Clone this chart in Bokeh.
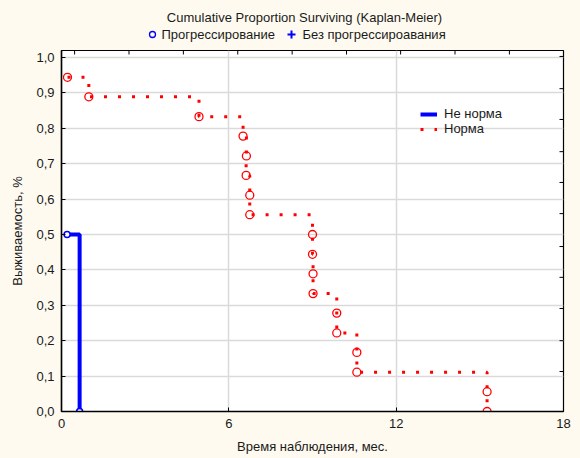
from bokeh.plotting import figure
from bokeh.layouts import column
from bokeh.models import Range1d, FixedTicker, Legend, LegendItem
from bokeh.core.properties import value
from bokeh.embed import file_html
from bokeh.resources import INLINE

# ---- texts ----
title_text = "Cumulative Proportion Surviving (Kaplan-Meier)"
x_label = "Время наблюдения, мес."
y_label = "Выживаемость, %"
top_legend_labels = ["Прогрессирование", "Без прогрессироавания"]
inner_legend_labels = ["Не норма", "Норма"]

# ---- ticks ----
x_ticks = [0, 6, 12, 18]
y_ticks = [0.0, 0.1, 0.2, 0.3, 0.4, 0.5, 0.6, 0.7, 0.8, 0.9, 1.0]
y_tick_labels = ["0,0", "0,1", "0,2", "0,3", "0,4", "0,5", "0,6", "0,7", "0,8", "0,9", "1,0"]
top_minor_ticks = [0.47, 2.42, 4.37, 6.32, 8.27, 10.22, 12.16, 14.11, 16.06]
right_minor_ticks = [1.003, 0.912, 0.825, 0.734, 0.647, 0.559, 0.466, 0.379, 0.291, 0.2, 0.113]

# ---- data ----
ne_norma_time = [0.2, 0.65]
ne_norma_surv = [0.5, 0.0]

norma_time = [0.215, 0.98, 4.93, 6.51, 6.63, 6.62, 6.75, 6.75, 9.0, 9.0,
              9.02, 9.02, 9.87, 9.87, 10.59, 10.59, 15.26, 15.26]
norma_surv = [0.944, 0.889, 0.833, 0.778, 0.722, 0.667, 0.611, 0.556, 0.5, 0.444,
              0.389, 0.333, 0.278, 0.222, 0.167, 0.111, 0.056, 0.0]

FONT = "Liberation Sans"
CREAM = "#FEFAF0"
TXT = "#1a1a1a"
X_MAX = 18
Y_MAX = 1.0198
HEADER_H = 49
LEFT, RIGHT = 61, 17

# ================= header (title + marker legend) =================
# frames of the column's children are aligned, so the header frame spans the
# same horizontal pixels as the main frame; use pixel coordinates for it.
hdr = figure(width=580, height=HEADER_H, output_backend="svg", toolbar_location=None,
             x_range=Range1d(LEFT, 580 - RIGHT), y_range=Range1d(HEADER_H, 0),
             x_axis_location=None, y_axis_location=None,
             min_border_left=LEFT, min_border_right=RIGHT, min_border_top=0, min_border_bottom=0)
hdr.grid.visible = False
hdr.outline_line_color = None
hdr.background_fill_color = CREAM
hdr.border_fill_color = CREAM

hdr.text(x=[304], y=[17], text=[title_text], text_align="center", text_baseline="middle",
         text_font=value(FONT), text_font_size="13px", text_color=TXT)
hdr.text(x=[161, 302], y=[34, 34], text=top_legend_labels, text_align="left",
         text_baseline="middle", text_font=value(FONT), text_font_size="13px", text_color=TXT)
hdr.scatter(x=[152], y=[34], marker="circle", size=6, line_color="#0000FF",
            fill_color=None, line_width=1.3)
hdr.scatter(x=[291], y=[34], marker="cross", size=8, line_color="#0000FF", line_width=2)

# ================= main plot =================
p = figure(width=580, height=458 - HEADER_H, output_backend="svg", toolbar_location=None,
           x_range=Range1d(0, X_MAX), y_range=Range1d(0, Y_MAX),
           min_border_left=LEFT, min_border_right=RIGHT, min_border_top=1, min_border_bottom=47)
p.border_fill_color = CREAM
p.background_fill_color = "white"
p.outline_line_color = "black"
p.outline_line_width = 1.2

p.xaxis.ticker = FixedTicker(ticks=x_ticks)
p.yaxis.ticker = FixedTicker(ticks=y_ticks)
p.yaxis.major_label_overrides = {t: l for t, l in zip(y_ticks, y_tick_labels)}
for ax in (p.xaxis[0], p.yaxis[0]):
    ax.axis_line_color = "black"
    ax.axis_line_width = 1.5
    ax.major_tick_in = 4
    ax.major_tick_out = 0
    ax.minor_tick_in = 0
    ax.minor_tick_out = 0
    ax.major_tick_line_color = "black"
    ax.major_label_text_font = FONT
    ax.major_label_text_font_size = "13px"
    ax.major_label_text_color = TXT
    ax.axis_label_text_font = FONT
    ax.axis_label_text_font_size = "13px"
    ax.axis_label_text_font_style = "normal"
    ax.axis_label_text_color = TXT
    ax.major_label_standoff = 7
    ax.axis_label_standoff = 8
p.yaxis.axis_label_standoff = 8
p.xaxis.axis_label = x_label
p.yaxis.axis_label = y_label

p.xgrid.ticker = FixedTicker(ticks=[6, 12])
p.ygrid.ticker = FixedTicker(ticks=y_ticks[1:])
p.grid.grid_line_color = "#DADADA"
p.grid.grid_line_width = 1.5

# inward minor ticks on the top and right frame edges
tick_dy = 4 / 354.0
tick_dx = 4 / 27.9
p.segment(x0=top_minor_ticks, y0=[Y_MAX] * len(top_minor_ticks),
          x1=top_minor_ticks, y1=[Y_MAX - tick_dy] * len(top_minor_ticks),
          line_color="black", line_width=1)
p.segment(x0=[X_MAX] * len(right_minor_ticks), y0=right_minor_ticks,
          x1=[X_MAX - tick_dx] * len(right_minor_ticks), y1=right_minor_ticks,
          line_color="black", line_width=1)

blue_line = p.step(ne_norma_time, ne_norma_surv, mode="after", line_color="#0000FF", line_width=4)
red_line = p.step(norma_time, norma_surv, mode="after", line_color="#FF0000", line_width=3,
                  line_dash="3 11")
p.scatter(norma_time, norma_surv, marker="circle", size=8, line_color="#FF0000",
          fill_color=None, line_width=1.3)
p.scatter(ne_norma_time, ne_norma_surv, marker="circle", size=6, line_color="#0000FF",
          fill_color="white", line_width=1.5)

inner_legend = Legend(items=[LegendItem(label=inner_legend_labels[0], renderers=[blue_line]),
                             LegendItem(label=inner_legend_labels[1], renderers=[red_line])],
                      location=(359, 275), orientation="vertical", glyph_width=17, glyph_height=14,
                      label_standoff=7, spacing=0, padding=0, margin=0,
                      border_line_color=None, background_fill_alpha=0,
                      label_text_font=FONT, label_text_font_size="13px", label_text_color=TXT,
                      label_height=14)
p.add_layout(inner_legend)

layout = column(hdr, p, spacing=0)
layout.styles = {"background-color": CREAM}

open("out.html", "w").write(file_html(layout, INLINE))
